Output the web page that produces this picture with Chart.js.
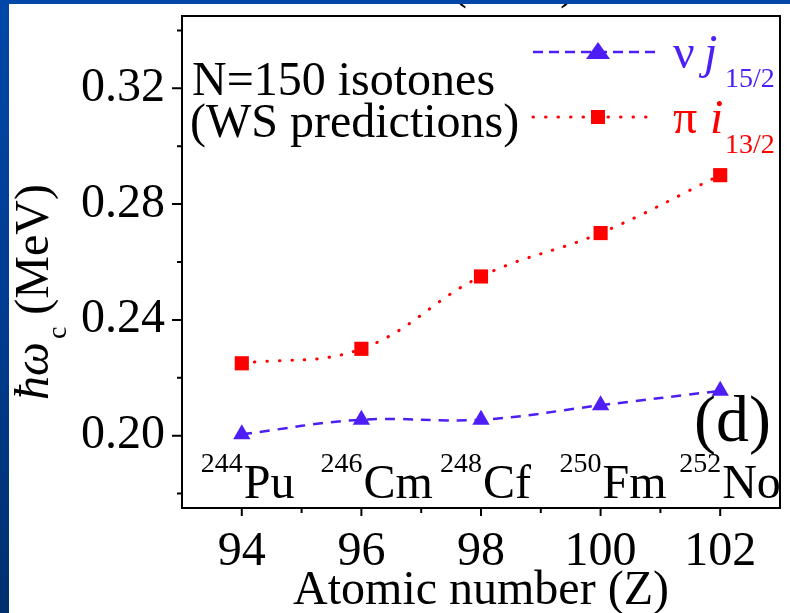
<!DOCTYPE html>
<html><head><meta charset="utf-8">
<script src="https://cdn.jsdelivr.net/npm/chart.js@4/dist/chart.umd.min.js"></script>
<style>
html,body{margin:0;padding:0;width:790px;height:613px;overflow:hidden;}
#bg{position:absolute;left:0;top:0;width:790px;height:613px;background:linear-gradient(180deg,#0047a8 0%,#003c92 50%,#002f6e 100%);}
#white{position:absolute;left:9px;top:4px;width:781px;height:609px;background:#fff;}
#wrap{position:absolute;left:0;top:0;width:790px;height:613px;}
</style></head>
<body><div id="bg"></div><div id="white"></div>
<div id="wrap"><canvas id="c" width="790" height="613"></canvas></div>
<script>
// ---- data ----
const Z = [94, 96, 98, 100, 102];
const nuJ152 = [0.2005, 0.2055, 0.2055, 0.2105, 0.2155];
const piI132 = [0.2250, 0.2300, 0.2550, 0.2700, 0.2900];
const massNumbers = ['244', '246', '248', '250', '252'];
const elements = ['Pu', 'Cm', 'Cf', 'Fm', 'No'];
const xMajorTicks = [94, 96, 98, 100, 102];
const yMajorTicks = [0.20, 0.24, 0.28, 0.32];
const yMinorTicks = [0.18, 0.22, 0.26, 0.30, 0.34];
const xMinorTicks = [95, 97, 99, 101];

const BLUE = '#4d1ef5';
const RED = '#ff0000';
const SERIF = '"Liberation Serif", "Times New Roman", serif';

const framePlugin = {
  id: 'frame',
  afterDraw(chart) {
    const {ctx, chartArea: a, scales: {x, y}} = chart;
    ctx.save();
    ctx.strokeStyle = '#000';
    ctx.lineWidth = 2;
    ctx.strokeRect(a.left, a.top, a.right - a.left, a.bottom - a.top);
    ctx.beginPath();
    xMajorTicks.forEach(v => { const p = x.getPixelForValue(v); ctx.moveTo(p, a.bottom); ctx.lineTo(p, a.bottom + 8); });
    xMinorTicks.forEach(v => { const p = x.getPixelForValue(v); ctx.moveTo(p, a.bottom); ctx.lineTo(p, a.bottom + 5); });
    yMajorTicks.forEach(v => { const p = y.getPixelForValue(v); ctx.moveTo(a.left, p); ctx.lineTo(a.left - 10, p); });
    yMinorTicks.forEach(v => { const p = y.getPixelForValue(v); ctx.moveTo(a.left, p); ctx.lineTo(a.left - 5, p); });
    ctx.stroke();

    // isotope labels
    ctx.fillStyle = '#000';
    ctx.textBaseline = 'alphabetic';
    Z.forEach((z, i) => {
      const p = x.getPixelForValue(z);
      ctx.font = '48px ' + SERIF;
      ctx.textAlign = 'left';
      ctx.fillText(elements[i], p + 2, 498);
      ctx.font = '28px ' + SERIF;
      ctx.textAlign = 'right';
      ctx.fillText(massNumbers[i], p + 1, 472);
    });

    // annotation text
    ctx.textAlign = 'left';
    ctx.font = '48px ' + SERIF;
    ctx.fillText('N=150 isotones', 192, 95);
    ctx.fillText('(WS predictions)', 190, 137);
    ctx.font = '66px ' + SERIF;
    ctx.fillText('(d)', 694, 441);

    // legend
    const lx0 = 533, lx1 = 655, mx = 598;
    ctx.lineWidth = 2.5;
    ctx.strokeStyle = BLUE;
    ctx.setLineDash([10, 6]);
    ctx.beginPath(); ctx.moveTo(lx0, 52); ctx.lineTo(lx1, 52); ctx.stroke();
    ctx.strokeStyle = RED;
    ctx.lineWidth = 3;
    ctx.setLineDash([0.5, 12]);
    ctx.lineCap = 'round';
    ctx.beginPath(); ctx.moveTo(lx0, 117); ctx.lineTo(lx1, 117); ctx.stroke();
    ctx.setLineDash([]);
    ctx.fillStyle = BLUE;
    ctx.beginPath(); ctx.moveTo(mx, 42); ctx.lineTo(mx + 12, 59); ctx.lineTo(mx - 12, 59); ctx.closePath(); ctx.fill();
    ctx.fillStyle = RED;
    ctx.fillRect(mx - 7, 110, 14, 14);

    ctx.fillStyle = BLUE;
    ctx.font = '48px ' + SERIF;
    ctx.fillText('\u03BD', 673, 68);
    ctx.font = 'italic 48px ' + SERIF;
    ctx.fillText('j', 704, 68);
    ctx.font = '28px ' + SERIF;
    ctx.fillText('15/2', 725, 87);
    ctx.fillStyle = RED;
    ctx.font = '48px ' + SERIF;
    ctx.fillText('\u03C0', 673, 133);
    ctx.font = 'italic 48px ' + SERIF;
    ctx.fillText('i', 710, 133);
    ctx.font = '28px ' + SERIF;
    ctx.fillText('13/2', 725, 153);

    // y axis title
    ctx.save();
    ctx.translate(48, 400);
    ctx.rotate(-Math.PI / 2);
    ctx.fillStyle = '#000';
    ctx.textAlign = 'left';
    ctx.font = 'italic 48px ' + SERIF;
    ctx.fillText('\u0127\u03C9', 0, 0);
    let w = ctx.measureText('\u0127\u03C9').width;
    ctx.font = '28px ' + SERIF;
    ctx.fillText('c', w + 3, 18);
    w += 3 + ctx.measureText('c').width + 12;
    ctx.font = '48px ' + SERIF;
    ctx.fillText('(MeV)', w, 0);
    ctx.restore();

    // clipped title remnant at top
    ctx.save();
    ctx.beginPath(); ctx.rect(0, 4, 790, 40); ctx.clip();
    ctx.font = '48px ' + SERIF;
    ctx.fillStyle = '#000';
    ctx.fillText('(', 451, -2);
    ctx.fillText(')', 560, -2);
    ctx.restore();
    ctx.restore();
  }
};

new Chart(document.getElementById('c'), {
  type: 'line',
  data: {
    datasets: [
      {
        label: '\u03BD j15/2',
        data: Z.map((z, i) => ({x: z, y: nuJ152[i]})),
        borderColor: BLUE, backgroundColor: BLUE,
        borderWidth: 2.5, borderDash: [10, 8],
        pointStyle: 'triangle', pointRadius: 10, pointBorderWidth: 0,
        pointBackgroundColor: BLUE, tension: 0.4
      },
      {
        label: '\u03C0 i13/2',
        data: Z.map((z, i) => ({x: z, y: piI132[i]})),
        borderColor: RED, backgroundColor: RED,
        borderWidth: 3, borderDash: [0.5, 12], borderCapStyle: 'round',
        pointStyle: 'rect', pointRadius: 10, pointBorderWidth: 0,
        pointBackgroundColor: RED, tension: 0.4
      }
    ]
  },
  options: {
    responsive: false, animation: false, devicePixelRatio: 1,
    layout: {padding: {top: 16, right: 5, left: 0, bottom: 0}},
    plugins: {legend: {display: false}, tooltip: {enabled: false}},
    scales: {
      x: {
        type: 'linear', min: 93, max: 103,
        afterBuildTicks: s => { s.ticks = xMajorTicks.map(v => ({value: v})); },
        ticks: {font: {family: SERIF, size: 48}, color: '#000', padding: 8, maxRotation: 0, autoSkip: false},
        grid: {display: false}, border: {display: false},
        title: {display: true, text: 'Atomic number (Z)', color: '#000', font: {family: SERIF, size: 48}, padding: {top: 0, bottom: -7}},
        afterFit: s => { s.height = 105; s.paddingLeft = 0; s.paddingRight = 0; }
      },
      y: {
        min: 0.175, max: 0.345,
        afterBuildTicks: s => { s.ticks = yMajorTicks.map(v => ({value: v})); },
        ticks: {font: {family: SERIF, size: 48}, color: '#000', padding: 9, callback: v => v.toFixed(2)},
        grid: {display: false}, border: {display: false},
        afterFit: s => { s.width = 182; s.paddingTop = 0; s.paddingBottom = 0; }
      }
    }
  },
  plugins: [framePlugin]
});
</script>
</body></html>
